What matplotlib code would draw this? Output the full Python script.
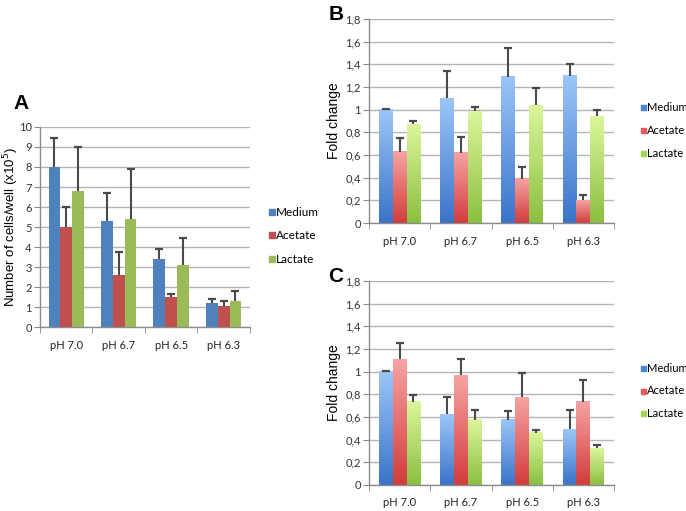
import matplotlib
matplotlib.use("Agg")
import matplotlib.pyplot as plt
import numpy as np
from matplotlib.colors import LinearSegmentedColormap
from matplotlib.lines import Line2D

categories = ["pH 7.0", "pH 6.7", "pH 6.5", "pH 6.3"]
series = ["Medium", "Acetate", "Lactate"]

# Panel A: number of cells/well (x10^5)
a_medium = [8.0, 5.3, 3.4, 1.2]
a_acetate = [5.0, 2.6, 1.5, 1.05]
a_lactate = [6.8, 5.4, 3.1, 1.3]
a_medium_err = [1.45, 1.4, 0.5, 0.2]
a_acetate_err = [1.0, 1.15, 0.15, 0.25]
a_lactate_err = [2.2, 2.5, 1.35, 0.5]

# Panel B: fold change
b_medium = [1.0, 1.10, 1.29, 1.30]
b_acetate = [0.63, 0.62, 0.39, 0.20]
b_lactate = [0.87, 0.985, 1.04, 0.94]
b_medium_err = [0.005, 0.24, 0.25, 0.10]
b_acetate_err = [0.12, 0.14, 0.10, 0.05]
b_lactate_err = [0.027, 0.035, 0.15, 0.06]

# Panel C: fold change
c_medium = [1.0, 0.625, 0.575, 0.49]
c_acetate = [1.11, 0.97, 0.775, 0.735]
c_lactate = [0.735, 0.575, 0.46, 0.325]
c_medium_err = [0.005, 0.15, 0.075, 0.17]
c_acetate_err = [0.14, 0.14, 0.21, 0.19]
c_lactate_err = [0.06, 0.085, 0.025, 0.03]

FLAT = ["#4f81bd", "#c0504d", "#9bbb59"]
GRAD = [("#3a73c8", "#9cc6f8"), ("#d23c3c", "#f7a3a3"), ("#8abf40", "#dcf69c")]
LEGEND_GRAD = ["#4a86d8", "#e45a5a", "#a6d452"]

TICK_FONT = "Lato"
LABEL_FONT = "Liberation Sans"
BAR_W = 0.225
GRID_C = "#b4b4b4"
SPINE_C = "#8c8c8c"
ERR_C = "#4a4a4a"


def style_axis(ax, ymax, step, fmt, ylabel, label_size, label_x):
    n = len(categories)
    ax.set_xlim(-0.5, n - 0.5)
    ax.set_ylim(0, ymax)
    yt = np.arange(0, ymax + step / 2, step)
    ax.set_yticks(yt)
    ax.set_yticklabels([fmt(v) for v in yt], fontsize=8, family=TICK_FONT, color="#333333")
    ax.set_xticks(range(n))
    ax.set_xticklabels(categories, fontsize=8, family=TICK_FONT, color="#222222")
    ax.tick_params(axis="x", which="major", length=0, pad=9)
    ax.set_xticks(np.arange(-0.5, n, 1.0), minor=True)
    ax.tick_params(axis="x", which="minor", length=4, color=SPINE_C)
    ax.tick_params(axis="y", length=4, color=SPINE_C, pad=2)
    ax.yaxis.grid(True, color=GRID_C, linewidth=1.0)
    ax.set_axisbelow(True)
    for s in ("top", "right"):
        ax.spines[s].set_visible(False)
    for s in ("left", "bottom"):
        ax.spines[s].set_color(SPINE_C)
        ax.spines[s].set_linewidth(1.0)
    ax.set_ylabel(ylabel, fontsize=label_size, family=LABEL_FONT, va="center")
    ax.yaxis.set_label_coords(label_x, 0.5)


def draw_errors(ax, pos, vals, err):
    tops = np.asarray(vals) + np.asarray(err)
    ax.vlines(pos, vals, tops, color=ERR_C, linewidth=1.5, zorder=3)
    ax.plot(pos, tops, linestyle="none", marker="_", markersize=5.5,
            markeredgewidth=1.6, color=ERR_C, zorder=3)


def draw_flat(ax, values, errs):
    x = np.arange(len(categories))
    for i, (vals, err) in enumerate(zip(values, errs)):
        pos = x + (i - 1) * BAR_W
        ax.bar(pos, vals, width=BAR_W, color=FLAT[i], zorder=2)
        draw_errors(ax, pos, vals, err)


def draw_gradient(ax, values, errs):
    x = np.arange(len(categories))
    grad = np.linspace(0, 1, 256).reshape(-1, 1)
    for i, (vals, err) in enumerate(zip(values, errs)):
        cmap = LinearSegmentedColormap.from_list(series[i], list(GRAD[i]))
        pos = x + (i - 1) * BAR_W
        for p, v in zip(pos, vals):
            ax.imshow(grad, extent=(p - BAR_W / 2, p + BAR_W / 2, 0, v), origin="lower",
                      aspect="auto", cmap=cmap, zorder=2)
        draw_errors(ax, pos, vals, err)


def add_legend(fig, colors, x, y, size, msize):
    handles = [Line2D([], [], marker="s", linestyle="none", markersize=msize,
                      markerfacecolor=c, markeredgecolor=c) for c in colors]
    fig.legend(handles, series, loc="upper left", bbox_to_anchor=(x, y), frameon=False,
               prop={"family": TICK_FONT, "size": size}, handletextpad=0.1,
               labelspacing=1.05, borderpad=0, borderaxespad=0, handlelength=0.5)


def comma(v):
    s = f"{v:.1f}".rstrip("0").rstrip(".")
    return s.replace(".", ",")


fig = plt.figure(figsize=(6.86, 5.11), dpi=100)

ax_a = fig.add_axes([0.0583, 0.360, 0.306, 0.3915])
draw_flat(ax_a, [a_medium, a_acetate, a_lactate], [a_medium_err, a_acetate_err, a_lactate_err])
style_axis(ax_a, 10, 1, lambda v: f"{int(round(v))}", "Number of cells/well (x10$^5$)", 9.5, -0.135)
add_legend(fig, FLAT, 0.392, 0.595, 8.5, 4.5)
fig.text(0.020, 0.787, "A", fontsize=15, fontweight="bold", family=LABEL_FONT)

ax_b = fig.add_axes([0.538, 0.5636, 0.357, 0.3992])
draw_gradient(ax_b, [b_medium, b_acetate, b_lactate], [b_medium_err, b_acetate_err, b_lactate_err])
style_axis(ax_b, 1.8, 0.2, comma, "Fold change", 10, -0.145)
add_legend(fig, LEGEND_GRAD, 0.933, 0.800, 8, 3.6)
fig.text(0.479, 0.960, "B", fontsize=15, fontweight="bold", family=LABEL_FONT)

ax_c = fig.add_axes([0.538, 0.0509, 0.357, 0.3992])
draw_gradient(ax_c, [c_medium, c_acetate, c_lactate], [c_medium_err, c_acetate_err, c_lactate_err])
style_axis(ax_c, 1.8, 0.2, comma, "Fold change", 10, -0.145)
add_legend(fig, LEGEND_GRAD, 0.933, 0.290, 8, 3.6)
fig.text(0.479, 0.449, "C", fontsize=15, fontweight="bold", family=LABEL_FONT)

fig.savefig("out.png", dpi=100)
